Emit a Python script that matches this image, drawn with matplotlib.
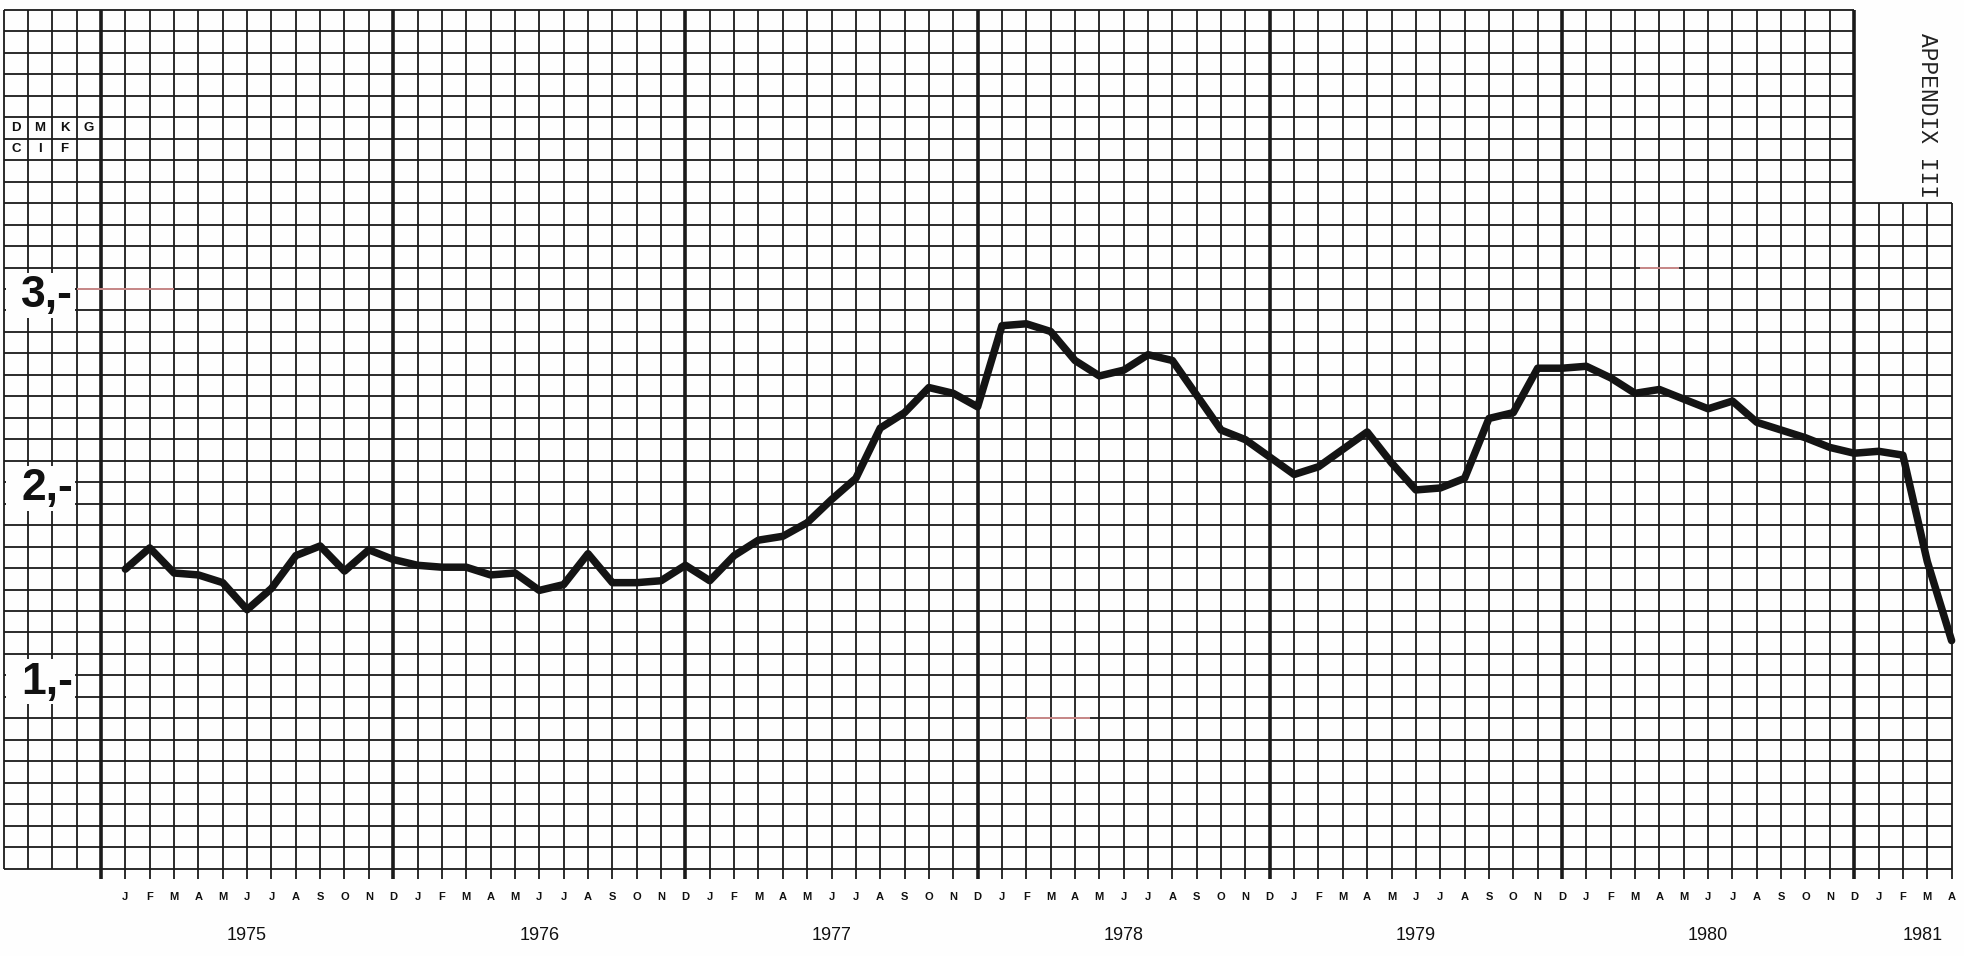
import matplotlib
matplotlib.use("Agg")
import matplotlib.pyplot as plt
from matplotlib.patches import Rectangle

# ---------------- data ----------------
# month index 0 = Jan 1975 ... 75 = Apr 1981
price = [1.55, 1.66, 1.53, 1.52, 1.48, 1.34, 1.45, 1.62, 1.67, 1.54, 1.65, 1.60,   # 1975
         1.57, 1.56, 1.56, 1.52, 1.53, 1.44, 1.47, 1.63, 1.48, 1.48, 1.49, 1.57,   # 1976
         1.49, 1.62, 1.70, 1.72, 1.79, 1.91, 2.02, 2.28, 2.36, 2.49, 2.46, 2.39,   # 1977
         2.81, 2.82, 2.78, 2.63, 2.55, 2.58, 2.66, 2.63, 2.45, 2.27, 2.22, 2.13,   # 1978
         2.04, 2.08, 2.17, 2.26, 2.10, 1.96, 1.97, 2.02, 2.33, 2.36, 2.59, 2.59,   # 1979
         2.60, 2.54, 2.46, 2.48, 2.43, 2.38, 2.42, 2.31, 2.27, 2.23, 2.18, 2.15,   # 1980
         2.16, 2.14, 1.59, 1.18]                                                   # 1981
months = list(range(len(price)))
month_letters = ["J", "F", "M", "A", "M", "J", "J", "A", "S", "O", "N", "D"]
years = ["1975", "1976", "1977", "1978", "1979", "1980", "1981"]
ytick_values = [3, 2, 1]
ytick_labels = ["3,-", "2,-", "1,-"]
unit_lines = ["D M K G", "C I F"]

# ---------------- figure ----------------
W, H = 1964, 956
fig = plt.figure(figsize=(W / 100, H / 100), dpi=100)
bg = "#fefefe"
fig.patch.set_facecolor(bg)
ax = fig.add_axes([0, 0, 1, 1])
ax.set_facecolor(bg)
ax.axis("off")

# pixel geometry of the graph paper
m0_px, month_px = 125.35, 24.35     # x of Jan 1975, px per month
v3_px, unit_px = 289.0, 193.2       # y of value 3, px per unit
ax.set_xlim(-m0_px / month_px, (W - m0_px) / month_px)
ax.set_ylim(3 - (H - v3_px) / unit_px, 3 + v3_px / unit_px)

cells_per_unit = 9
n_rows = 40                # grid from 0 up to 40/9
notch_row = 31             # right-hand extension stops at this row
m_left, m_main_right, m_right = -5, 71, 75
top = n_rows / cells_per_unit
notch_top = notch_row / cells_per_unit
tick_bottom = -0.055
grid_c = "#1a1a1a"

# horizontal lines
for k in range(n_rows + 1):
    v = k / cells_per_unit
    right = m_right if k <= notch_row else m_main_right
    ax.hlines(v, m_left, right, color=grid_c, lw=1.3, zorder=1)

# vertical lines
for m in range(m_left, m_right + 1):
    upper = top if m <= m_main_right else notch_top
    lower = tick_bottom if m >= -1 else 0
    thick = (m + 1) % 12 == 0
    ax.vlines(m, lower, upper, color=grid_c, lw=2.6 if thick else 1.3, zorder=1)

# faint red pencil marks on the paper
red = "#e59a9a"
ax.hlines(3, -2, 2, color=red, lw=1.2, zorder=1.5)
ax.hlines(7 / cells_per_unit, 37, 39.6, color=red, lw=1.2, zorder=1.5)
ax.hlines(3 + 1 / cells_per_unit, 62.2, 63.8, color=red, lw=1.2, zorder=1.5)

# y-axis labels with white patches
for v, lab in zip(ytick_values, ytick_labels):
    ax.add_patch(Rectangle((-4.92, v - 0.15), 2.87, 0.235, facecolor=bg,
                           edgecolor="none", zorder=3))
    ax.text(-3.22, v - 0.035, lab, ha="center", va="center", fontsize=32,
            fontweight="bold", family="Liberation Sans", color="#111", zorder=4)

# DM/kg CIF unit box
for r, line in enumerate(unit_lines):
    v = 3 + (7.5 - r) / cells_per_unit
    for i, ch in enumerate(line.split(" ")):
        ax.text(-4.5 + i, v, ch, ha="center", va="center", fontsize=9.5,
                fontweight="bold", family="Liberation Sans", color="#111", zorder=4)

# month letters and year labels
for m in months:
    ax.text(m, -0.145, month_letters[m % 12], ha="center", va="center",
            fontsize=8, fontweight="bold", family="Liberation Sans", color="#111")
year_pos = [5 + 12 * i for i in range(len(years) - 1)] + [73.8]
for y, p in zip(years, year_pos):
    ax.text(p, -0.345, y, ha="center", va="center", fontsize=13,
            family="Liberation Sans", color="#111")

# APPENDIX III
ax.text(74.0, 3.9, "APPENDIX III", rotation=270, ha="center", va="center",
        fontsize=16.5, family="Liberation Mono", color="#222")

# the price line
ax.plot(months, price, color="#141414", lw=5.4, solid_joinstyle="round",
        solid_capstyle="round", zorder=5)

fig.savefig("out.png", dpi=100, facecolor=bg)
